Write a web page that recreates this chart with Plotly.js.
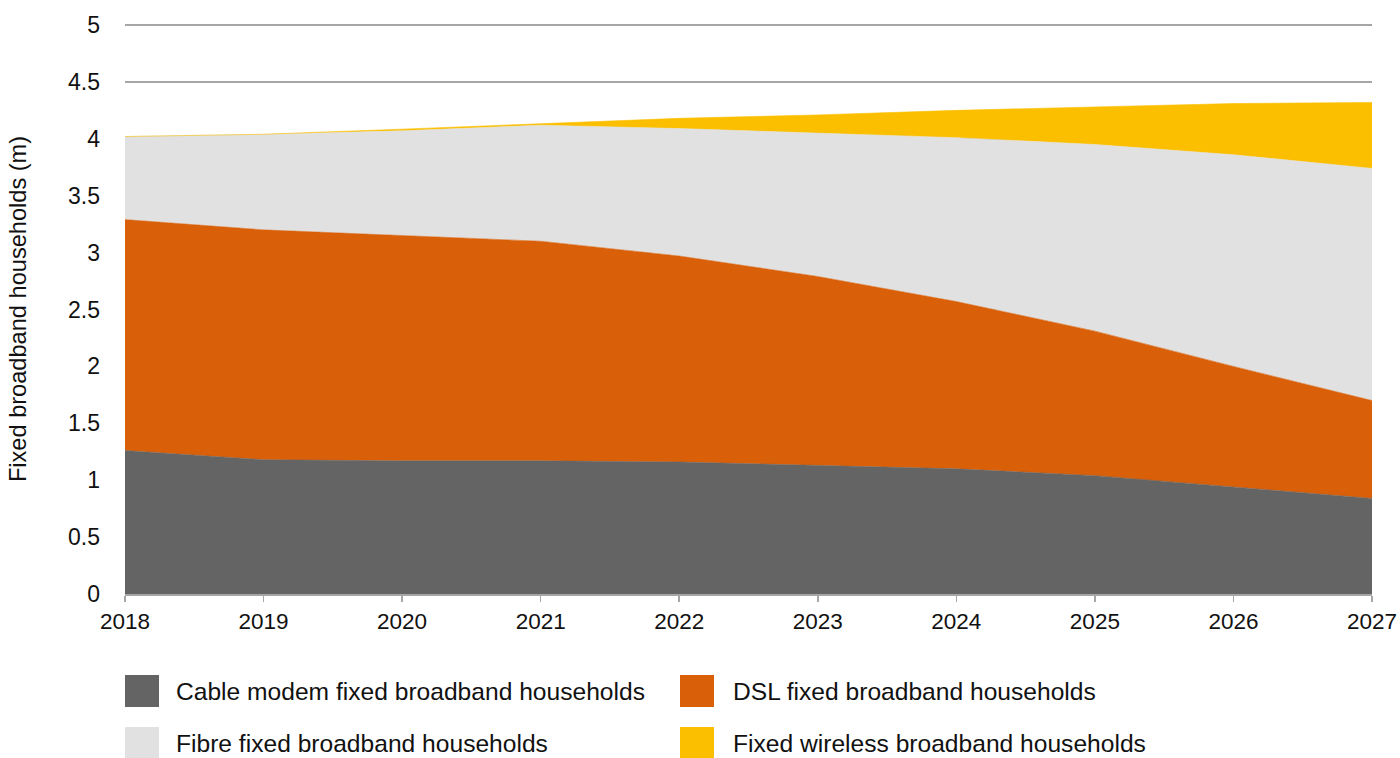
<!DOCTYPE html>
<html>
<head>
<meta charset="utf-8">
<script src="https://cdn.plot.ly/plotly-3.0.1.min.js"></script>
<style>
html,body{margin:0;padding:0;background:#fff;}
#chart{width:1400px;height:758px;}
</style>
</head>
<body>
<div id="chart"></div>
<script>
// ---- data ----
const years = [2018, 2019, 2020, 2021, 2022, 2023, 2024, 2025, 2026, 2027];
const seriesNames = [
  "Cable modem fixed broadband households",
  "DSL fixed broadband households",
  "Fibre fixed broadband households",
  "Fixed wireless broadband households"
];
const cableModem = [1.26, 1.18, 1.17, 1.17, 1.16, 1.13, 1.10, 1.04, 0.94, 0.84];
const dsl        = [2.03, 2.02, 1.98, 1.93, 1.81, 1.66, 1.47, 1.27, 1.06, 0.86];
const fibre      = [0.73, 0.84, 0.92, 1.02, 1.12, 1.26, 1.44, 1.64, 1.86, 2.04];
const wireless   = [0.00, 0.00, 0.015, 0.01, 0.09, 0.16, 0.24, 0.33, 0.45, 0.58];
const yTickVals  = [0, 0.5, 1, 1.5, 2, 2.5, 3, 3.5, 4, 4.5, 5];
const yTickText  = ["0", "0.5", "1", "1.5", "2", "2.5", "3", "3.5", "4", "4.5", "5"];
const yTitle = "Fixed broadband households (m)";

// ---- styling ----
const colors = ["#646464", "#d95f08", "#e1e1e1", "#fbbf00"];
const values = [cableModem, dsl, fibre, wireless];
const FONT = '"Liberation Sans", Arial, Helvetica, sans-serif';

const traces = values.map((v, i) => ({
  type: "scatter",
  mode: "lines",
  x: years,
  y: v,
  name: seriesNames[i],
  stackgroup: "one",
  fillcolor: colors[i],
  line: {width: 0.6, color: colors[i]},
  showlegend: false,
  hoverinfo: "x+y+name"
}));

// custom legend (pixel layout -> paper coordinates)
const L = 125, R = 1372, T = 24, B = 594;
const px2x = px => (px - L) / (R - L);
const py2y = py => (B - py) / (B - T);
const legendPos = [
  {sx: 125, tx: 174, cy: 691},
  {sx: 680, tx: 731, cy: 691},
  {sx: 125, tx: 174, cy: 743},
  {sx: 680, tx: 731, cy: 743}
];
const shapes = [];
const annotations = [];
legendPos.forEach((p, i) => {
  shapes.push({
    type: "rect", xref: "paper", yref: "paper",
    x0: px2x(p.sx), x1: px2x(p.sx + 34),
    y0: py2y(p.cy - 16), y1: py2y(p.cy + 16),
    fillcolor: colors[i], line: {width: 0}
  });
  annotations.push({
    xref: "paper", yref: "paper",
    x: px2x(p.tx), y: py2y(p.cy),
    xanchor: "left", yanchor: "middle",
    text: seriesNames[i], showarrow: false,
    font: {family: FONT, size: 24.6, color: "#111"}
  });
});

const layout = {
  width: 1400, height: 758,
  margin: {l: L, r: 1400 - R, t: T, b: 758 - B, pad: 0},
  paper_bgcolor: "#fff",
  plot_bgcolor: "#fff",
  font: {family: FONT, color: "#111"},
  xaxis: {
    range: [2018, 2027],
    tickvals: years,
    ticktext: years.map(String),
    showgrid: false,
    zeroline: false,
    showline: true,
    linecolor: "#a6a6a6",
    linewidth: 1.5,
    ticks: "outside",
    ticklen: 6,
    tickwidth: 1.5,
    tickcolor: "#a6a6a6",
    tickfont: {family: FONT, size: 22.5, color: "#111"},
    automargin: false
  },
  yaxis: {
    range: [0, 5.009],
    tickvals: yTickVals,
    ticktext: yTickText,
    showgrid: true,
    gridcolor: "#a6a6a6",
    gridwidth: 1.5,
    zeroline: false,
    showline: false,
    ticks: "",
    ticklabelstandoff: 24,
    tickfont: {family: FONT, size: 23, color: "#111"},
    title: {text: yTitle, font: {family: FONT, size: 23.6, color: "#111"}, standoff: 34},
    automargin: false
  },
  shapes: shapes,
  annotations: annotations,
  showlegend: false
};

Plotly.newPlot("chart", traces, layout, {displayModeBar: false, staticPlot: true});
</script>
</body>
</html>
